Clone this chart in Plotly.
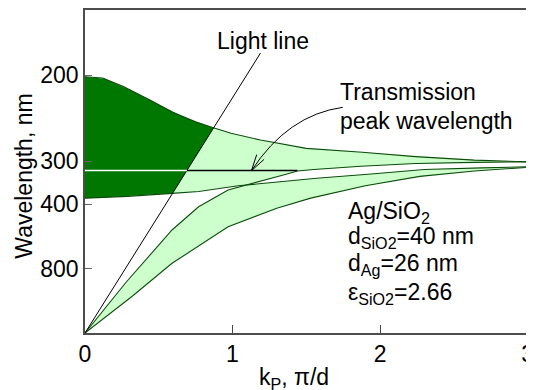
import numpy as np
import plotly.graph_objects as go

INF = float("inf")

# ---------------- data (k in units of pi/d, wavelength in nm) ----------------
# upper band, top edge
top_k = [0.00, 0.12, 0.26, 0.44, 0.59, 0.75, 0.87, 0.99, 1.19, 1.33, 1.50, 1.88, 2.24, 2.64, 3.00]
top_nm = [201, 202, 209, 221, 233, 244, 251, 258, 267, 272, 279, 285, 292, 298, 301]

# edge A: starts at ~382 nm at k=0 (lower edge of upper band on the left)
a_k = [0.00, 0.29, 0.59, 0.77, 1.04, 1.33, 1.57, 1.94, 2.30, 2.69, 3.00]
a_nm = [382, 377, 369, 364, 350, 340, 333, 324, 315, 312, 310]

# edge B: starts at the origin (upper edge of lower band on the left)
b_k = [0.00, 0.28, 0.59, 0.77, 0.97, 1.10, 1.25, 1.37, 1.44, 1.55, 1.87, 2.24, 2.64, 3.00]
b_nm = [INF, 1010, 500, 408, 360, 348, 334, 324, 318, 315, 309, 304, 302, 301]

# edge C: lower edge of lower band
c_k = [0.00, 0.32, 0.59, 0.97, 1.30, 1.53, 1.90, 2.27, 2.64, 3.00]
c_nm = [INF, 1400, 739, 485, 413, 382, 350, 329, 318, 311]

# light line
light_k = [0.0, 1.19]
light_nm = [INF, 184]

# transmission peak wavelength
peak_nm = 317
peak_k_end = 1.44

ytick_nm = [200, 300, 400, 800]
xtick_vals = [0, 1, 2, 3]

# ---------------- layout geometry (page pixels) ----------------
PAGE_W, PAGE_H = 534, 390
BODY = 8                      # default page margin around the plot div
PL, PR, PT, PB = 85, 534, 10, 333   # plot area in page pixels
W, H = PAGE_W - BODY, PAGE_H - BODY
ML, MT = PL - BODY, PT - BODY
MR = (BODY + W) - PR
MB = (BODY + H) - PB
X_RANGE = [0, 3.01]
Y_RANGE = [0, 6.27]
FONT = "Liberation Sans, Arial, sans-serif"
FS = 23

DARK = "#007700"
LIGHT = "#ccffcc"
EDGE = "#0b4d0b"


def inv(nm):
    return 1000.0 / np.asarray(nm, dtype=float)


def paper(x, y):
    return (x - PL) / (PR - PL), (PB - y) / (PB - PT)


def todata(x, y):
    xp, yp = paper(x, y)
    return (X_RANGE[0] + xp * (X_RANGE[1] - X_RANGE[0]),
            Y_RANGE[0] + yp * (Y_RANGE[1] - Y_RANGE[0]))


fT_pts, fA_pts, fB_pts, fC_pts = inv(top_nm), inv(a_nm), inv(b_nm), inv(c_nm)
fL_pts = inv(light_nm)
slope = fL_pts[1] / light_k[1]

kk = np.linspace(0, 3, 3001)
fT = np.interp(kk, top_k, fT_pts)
fA = np.interp(kk, a_k, fA_pts)
fB = np.interp(kk, b_k, fB_pts)
fC = np.interp(kk, c_k, fC_pts)

upper_lo = np.maximum(fA, fB)
lower_hi = np.minimum(fA, fB)

fig = go.Figure()

# upper band (light)
fig.add_trace(go.Scatter(x=np.concatenate([kk, kk[::-1]]),
                         y=np.concatenate([fT, upper_lo[::-1]]),
                         fill="toself", fillcolor=LIGHT, line=dict(width=0),
                         mode="lines", hoverinfo="skip", showlegend=False))
# lower band (light)
fig.add_trace(go.Scatter(x=np.concatenate([kk, kk[::-1]]),
                         y=np.concatenate([lower_hi, fC[::-1]]),
                         fill="toself", fillcolor=LIGHT, line=dict(width=0),
                         mode="lines", hoverinfo="skip", showlegend=False))
# dark part of the upper band: left of the light line
mask = slope * kk <= fT
kd = kk[mask]
dark_top = fT[mask]
dark_bot = np.maximum(fA[mask], slope * kd)
fig.add_trace(go.Scatter(x=np.concatenate([kd, kd[::-1]]),
                         y=np.concatenate([dark_top, dark_bot[::-1]]),
                         fill="toself", fillcolor=DARK, line=dict(width=0),
                         mode="lines", hoverinfo="skip", showlegend=False))

# band edges
for kx, fy in [(top_k, fT_pts), (a_k, fA_pts), (b_k, fB_pts), (c_k, fC_pts)]:
    fig.add_trace(go.Scatter(x=kx, y=fy, mode="lines",
                             line=dict(color=EDGE, width=1.1),
                             hoverinfo="skip", showlegend=False))

# light line
fig.add_trace(go.Scatter(x=light_k, y=fL_pts, mode="lines",
                         line=dict(color="black", width=1),
                         hoverinfo="skip", showlegend=False))

# transmission peak line: white inside the light cone, black outside
f_peak = 1000.0 / peak_nm
k_cross = f_peak / slope
fig.add_trace(go.Scatter(x=[0, k_cross], y=[f_peak, f_peak], mode="lines",
                         line=dict(color="white", width=1.6),
                         hoverinfo="skip", showlegend=False))
fig.add_trace(go.Scatter(x=[k_cross, peak_k_end], y=[f_peak, f_peak], mode="lines",
                         line=dict(color="black", width=1.6),
                         hoverinfo="skip", showlegend=False))

# curved pointer for "Transmission peak wavelength"
p0 = (345.7, 107.3)
p1 = (290.0, 115.0)
p2 = (253.3, 170.7)
d0, d1, d2 = todata(*p0), todata(*p1), todata(*p2)
path = f"M {d0[0]},{d0[1]} Q {d1[0]},{d1[1]} {d2[0]},{d2[1]}"
vx, vy = p1[0] - p2[0], p1[1] - p2[1]
nrm = np.hypot(vx, vy)
vx, vy = vx / nrm, vy / nrm
for ang in (np.radians(15), np.radians(-15)):
    bx = vx * np.cos(ang) - vy * np.sin(ang)
    by = vx * np.sin(ang) + vy * np.cos(ang)
    e = todata(p2[0] + 17 * bx, p2[1] + 17 * by)
    path += f" M {d2[0]},{d2[1]} L {e[0]},{e[1]}"
fig.add_shape(type="path", path=path, xref="x", yref="y",
              line=dict(color="black", width=1))


def ann(text, x, y, xanchor="left", angle=0):
    xp, yp = paper(x, y)
    fig.add_annotation(text=text, x=xp, y=yp, xref="paper", yref="paper",
                       xanchor=xanchor, yanchor="middle", showarrow=False,
                       textangle=angle,
                       font=dict(family=FONT, size=FS, color="black"))


ann("Light line", 265, 41, "center")
ann("Transmission", 341, 92)
ann("peak wavelength", 341, 121)
ann("Ag/SiO<sub>2</sub>", 349, 212)
ann("d<sub>SiO2</sub>=40 nm", 349, 238)
ann("d<sub>Ag</sub>=26 nm", 349, 264)
ann("ε<sub>SiO2</sub>=2.66", 349, 293)
ann("Wavelength, nm", 23, 176, "center", -90)
ann("k<sub>P</sub>, π/d", 296, 378, "center")

fig.update_layout(
    width=W, height=H,
    margin=dict(l=ML, r=MR, t=MT, b=MB, pad=0),
    paper_bgcolor="white", plot_bgcolor="white",
    font=dict(family=FONT, size=FS, color="black"),
    showlegend=False,
    xaxis=dict(range=X_RANGE, tickvals=xtick_vals,
               ticktext=[str(v) for v in xtick_vals],
               ticks="inside", ticklen=8, tickcolor="#444", tickwidth=1.2,
               ticklabeloverflow="allow",
               showline=True, linecolor="#4d4d4d", linewidth=1.5, mirror=True,
               showgrid=False, zeroline=False,
               tickfont=dict(family=FONT, size=FS, color="black")),
    yaxis=dict(range=Y_RANGE, tickvals=list(inv(ytick_nm)),
               ticktext=[str(v) for v in ytick_nm],
               ticks="inside", ticklen=7, tickcolor="#666", tickwidth=1.2,
               showline=True, linecolor="#4d4d4d", linewidth=1.5,
               showgrid=False, zeroline=False,
               tickfont=dict(family=FONT, size=FS, color="black")),
)

fig.write_html("out.html")
